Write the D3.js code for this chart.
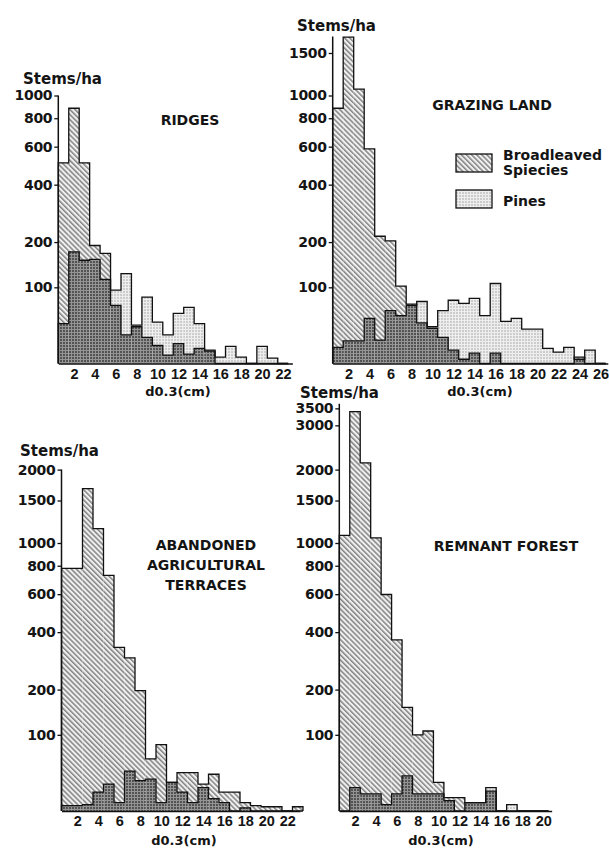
<!DOCTYPE html>
<html><head><meta charset="utf-8">
<script src="https://cdn.jsdelivr.net/npm/d3@7"></script>
<style>
body{margin:0;background:#fff}
svg text{font-family:"DejaVu Sans",sans-serif;font-weight:bold;fill:#141414}
</style>
</head><body><svg id="c" width="609" height="848"></svg>
<script>
// ---- data (stems/ha per 1 cm diameter class, d0.3) ----
const ridgesBroad    = [507, 883, 507, 191, 171, 70, 30, 40, 27, 18, 8, 20, 9, 15, 12, 0, 0, 0, 0, 0, 0, 0];
const ridgesPine     = [44, 175, 155, 157, 115, 95, 126, 42, 83, 46, 30, 58, 67, 44, 13, 6, 17, 6, 0, 17, 5, 0];
const grazingBroad   = [883, 1741, 1063, 586, 216, 203, 102, 72, 45, 38, 27, 13, 4, 10, 0, 10, 0, 0, 0, 0, 0, 0, 0, 6, 0, 0];
const grazingPine    = [16, 23, 23, 51, 24, 62, 55, 70, 76, 40, 62, 78, 73, 81, 55, 107, 47, 51, 37, 37, 15, 11, 16, 4, 13, 0];
const terracesBroad  = [780, 780, 1677, 1149, 726, 337, 298, 197, 61, 83, 30, 42, 42, 28, 40, 19, 19, 8, 5, 4, 4, 0, 4];
const terracesPine   = [5, 5, 6, 19, 28, 8, 44, 32, 34, 8, 30, 19, 8, 24, 12, 8, 0, 3, 0, 0, 0, 0, 0];
const forestBroad    = [1076, 3400, 2128, 1050, 598, 367, 156, 100, 107, 30, 13, 13, 8, 8, 20, 0, 0, 0, 0, 0];
const forestPine     = [0, 24, 17, 17, 6, 17, 38, 17, 17, 17, 10, 0, 8, 8, 24, 0, 6, 0, 0, 0];
const xTickLabels    = [2, 4, 6, 8, 10, 12, 14, 16, 18, 20, 22, 24, 26];
const yTicksTop      = [100, 200, 400, 600, 800, 1000, 1500, 2000, 3000, 3500];
const titleRidges    = ["RIDGES"];
const titleGrazing   = ["GRAZING LAND"];
const titleTerraces  = ["ABANDONED", "AGRICULTURAL", "TERRACES"];
const titleForest    = ["REMNANT FOREST"];
const legendLabels   = [["Broadleaved", "Spiecies"], ["Pines"]];

const svg = d3.select("#c");
const defs = svg.append("defs");

// hatch for broadleaved
const ph = defs.append("pattern").attr("id","hatch").attr("patternUnits","userSpaceOnUse")
  .attr("width",3.6).attr("height",3.6).attr("patternTransform","rotate(-45)");
ph.append("rect").attr("width",3.6).attr("height",3.6).attr("fill","#f0f0f0");
ph.append("line").attr("x1",0.8).attr("y1",0).attr("x2",0.8).attr("y2",3.6).attr("stroke","#5a5a5a").attr("stroke-width",1.1);
// light stipple for pines
const pd = defs.append("pattern").attr("id","dots").attr("patternUnits","userSpaceOnUse").attr("width",3).attr("height",3);
pd.append("rect").attr("width",3).attr("height",3).attr("fill","#eeeeee");
pd.append("circle").attr("cx",1).attr("cy",1).attr("r",0.75).attr("fill","#9a9a9a");
// dark overlap
const po = defs.append("pattern").attr("id","dark").attr("patternUnits","userSpaceOnUse").attr("width",3).attr("height",3);
po.append("rect").attr("width",3).attr("height",3).attr("fill","#949494");
po.append("circle").attr("cx",1).attr("cy",1).attr("r",0.95).attr("fill","#363636");

const panels = [
  {broad: ridgesBroad, pine: ridgesPine, axisX: 58.3, w: 10.45, base: 363.5, xMax: 22.9, yTop: 1000, nTicks: 6,
   title: titleRidges, tx: 190, ty: 125, stemsX: 23, stemsY: 84, xlabX: 178, xlabY: 396},
  {broad: grazingBroad, pine: grazingPine, axisX: 332.7, w: 10.5, base: 363.5, xMax: 26.7, yTop: 1750, nTicks: 7,
   title: titleGrazing, tx: 492, ty: 110, stemsX: 297, stemsY: 31, xlabX: 480, xlabY: 396, legend: true},
  {broad: terracesBroad, pine: terracesPine, axisX: 61.5, w: 10.5, base: 811, xMax: 23.2, yTop: 2000, nTicks: 8,
   title: titleTerraces, tx: 206, ty: 550, stemsX: 20, stemsY: 456, xlabX: 184, xlabY: 845},
  {broad: forestBroad, pine: forestPine, axisX: 339.3, w: 10.46, base: 811, xMax: 20.8, yTop: 3650, nTicks: 10,
   title: titleForest, tx: 506, ty: 551, stemsX: 300, stemsY: 398, xlabX: 441, xlabY: 845}
];

const stepLine = d3.line();

panels.forEach(p => {
  const n = p.broad.length;
  const x = d3.scaleLinear().domain([0.5, p.xMax]).range([p.axisX, p.axisX + (p.xMax - 0.5) * p.w]);
  const y = d3.scaleSymlog().constant(105).domain([0, 1000]).range([p.base, p.base - 268]);
  const g = svg.append("g");
  const idx = d3.range(n);

  // bars
  g.selectAll(".b").data(idx).join("rect")
    .attr("x", i => x(i + 0.5)).attr("width", i => x(i + 1.5) - x(i + 0.5))
    .attr("y", i => y(p.broad[i])).attr("height", i => y(0) - y(p.broad[i]))
    .attr("fill", "url(#hatch)");
  g.selectAll(".p").data(idx).join("rect")
    .attr("x", i => x(i + 0.5)).attr("width", i => x(i + 1.5) - x(i + 0.5))
    .attr("y", i => y(p.pine[i])).attr("height", i => y(0) - y(p.pine[i]))
    .attr("fill", "url(#dots)");
  g.selectAll(".o").data(idx).join("rect")
    .attr("x", i => x(i + 0.5)).attr("width", i => x(i + 1.5) - x(i + 0.5))
    .attr("y", i => y(Math.min(p.broad[i], p.pine[i]))).attr("height", i => y(0) - y(Math.min(p.broad[i], p.pine[i])))
    .attr("fill", "url(#dark)");

  // step outlines
  [p.pine, p.broad].forEach(series => {
    const pts = [[x(0.5), y(0)]];
    series.forEach((v, i) => { pts.push([x(i + 0.5), y(v)]); pts.push([x(i + 1.5), y(v)]); });
    pts.push([x(n + 0.5), y(0)]);
    g.append("path").attr("d", stepLine(pts)).attr("fill", "none")
      .attr("stroke", "#111").attr("stroke-width", 1.3).attr("stroke-linejoin", "miter");
  });

  // x axis
  const xa = d3.axisBottom(x).tickValues(xTickLabels.filter(t => t < p.xMax)).tickSize(0).tickPadding(5).tickFormat(d3.format("d"));
  const gx = g.append("g").attr("transform", `translate(0,${p.base})`).call(xa);
  gx.select(".domain").attr("stroke", "#111").attr("stroke-width", 1.5);
  gx.selectAll("text").style("font-family", "'Liberation Sans', Arial, sans-serif").style("font-size", "14.5px").attr("fill", "#141414");

  // y axis
  const ya = d3.axisLeft(y).tickValues(yTicksTop.slice(0, p.nTicks)).tickSize(4).tickPadding(2).tickFormat(d3.format("d"));
  const gy = g.append("g").attr("transform", `translate(${p.axisX},0)`).call(ya);
  gy.select(".domain").attr("d", `M0,${y(0)}V${y(p.yTop)}`).attr("stroke", "#111").attr("stroke-width", 1.5);
  gy.selectAll(".tick line").attr("stroke", "#111").attr("stroke-width", 1.3);
  gy.selectAll("text").style("font-size", "14px").style("letter-spacing", "-0.3px").attr("fill", "#141414");

  // texts
  g.append("text").attr("x", p.stemsX).attr("y", p.stemsY).style("font-size", "15px").text("Stems/ha");
  g.append("text").attr("x", p.xlabX).attr("y", p.xlabY).attr("text-anchor", "middle").style("font-size", "13px").text("d0.3(cm)");
  p.title.forEach((t, k) => {
    g.append("text").attr("x", p.tx).attr("y", p.ty + k * 20).attr("text-anchor", "middle").style("font-size", "14px").text(t);
  });

  if (p.legend) {
    const fills = ["url(#hatch)", "url(#dots)"];
    const ys = [154, 190];
    legendLabels.forEach((lab, k) => {
      g.append("rect").attr("x", 456).attr("y", ys[k]).attr("width", 36).attr("height", 18)
        .attr("fill", fills[k]).attr("stroke", "#111").attr("stroke-width", 1.3);
      lab.forEach((t, j) => {
        g.append("text").attr("x", 503).attr("y", (k === 0 ? 160 : 206) + j * 15).style("font-size", "14px").text(t);
      });
    });
  }
});
</script>
</body></html>
